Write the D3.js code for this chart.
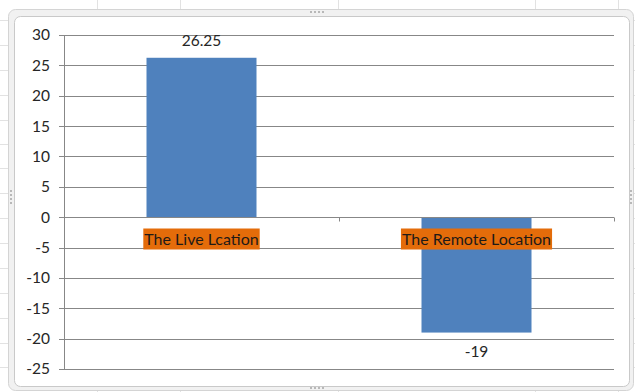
<!DOCTYPE html>
<html>
<head>
<meta charset="utf-8">
<script src="https://cdn.jsdelivr.net/npm/d3@7"></script>
<style>
  html, body { margin: 0; padding: 0; background: #ffffff; }
  svg { display: block; }
  text { font-family: Lato, "Open Sans", sans-serif; }
</style>
</head>
<body>
<svg id="chart" width="635" height="392"></svg>
<script>
// Chart data
const categories = ["The Live Lcation", "The Remote Location"];
const values = [26.25, -19];
const valueLabels = ["26.25", "-19"];
const yTicks = [30, 25, 20, 15, 10, 5, 0, -5, -10, -15, -20, -25];

// Spreadsheet cell borders behind the chart object
const sheetCols = [97, 180, 338, 535, 618];
const sheetRows = [20, 45, 70, 95, 120, 144, 168, 193, 218, 243, 268, 293, 318, 343, 367];

const svg = d3.select("#chart");
const W = 635, H = 392;

// Worksheet grid (only peeks out around the chart frame)
const sheet = svg.append("g").attr("stroke", "#e2e2e2").attr("stroke-width", 1);
sheetCols.forEach(x => sheet.append("line")
  .attr("x1", x + 0.5).attr("x2", x + 0.5).attr("y1", 0).attr("y2", H));
sheetRows.forEach(y => sheet.append("line")
  .attr("x1", 0).attr("x2", W).attr("y1", y + 0.5).attr("y2", y + 0.5));

// Chart object frame: light selection band with a white inner area
svg.append("rect")
  .attr("x", 8.5).attr("y", 9.5).attr("width", 625).attr("height", 381)
  .attr("rx", 7)
  .attr("fill", "#f1f1f1").attr("stroke", "#d4d4d4");
svg.append("rect")
  .attr("x", 14.5).attr("y", 16.5).attr("width", 615).attr("height", 370)
  .attr("rx", 6)
  .attr("fill", "#ffffff").attr("stroke", "#c9c9c9");

// Resize handles (small dotted grips)
const grips = svg.append("g").attr("fill", "#b8b8b8");
[[310, 12], [310, 388]].forEach(([cx, cy]) => {
  for (let i = 0; i < 4; i++) grips.append("rect")
    .attr("x", cx + i * 4).attr("y", cy - 1).attr("width", 2).attr("height", 2);
});
[[11, 190], [631, 190]].forEach(([cx, cy]) => {
  for (let i = 0; i < 4; i++) grips.append("rect")
    .attr("x", cx - 1).attr("y", cy + i * 4).attr("width", 2).attr("height", 2);
});

// Scales
const plotLeft = 64, plotRight = 614, plotTop = 35, plotBottom = 369;
const y = d3.scaleLinear().domain([-25, 30]).range([plotBottom, plotTop]);
const x = d3.scaleBand().domain(categories).range([plotLeft, plotRight])
  .paddingInner(0.6).paddingOuter(0.3);
const xStep = d3.scaleBand().domain(categories).range([plotLeft, plotRight]).padding(0);

const gridColor = "#878787";

// Horizontal gridlines with outward tick marks on the value axis
const grid = svg.append("g");
yTicks.forEach(t => {
  grid.append("line")
    .attr("x1", plotLeft - 5).attr("x2", plotRight)
    .attr("y1", Math.round(y(t)) + 0.5).attr("y2", Math.round(y(t)) + 0.5)
    .attr("stroke", gridColor).attr("stroke-width", 1);
});

// Value axis line
svg.append("line")
  .attr("x1", plotLeft + 0.5).attr("x2", plotLeft + 0.5)
  .attr("y1", Math.round(y(30))).attr("y2", Math.round(y(-25)) + 1)
  .attr("stroke", gridColor);

// Value axis labels
svg.append("g").selectAll("text").data(yTicks).join("text")
  .attr("x", 50).attr("y", d => y(d))
  .attr("dy", "0.35em")
  .attr("text-anchor", "end")
  .attr("font-size", 15.5)
  .attr("fill", "#262626")
  .text(d => d);

// Bars
svg.append("g").selectAll("rect").data(values).join("rect")
  .attr("x", (d, i) => x(categories[i]))
  .attr("width", x.bandwidth())
  .attr("y", d => y(Math.max(0, d)))
  .attr("height", d => Math.abs(y(d) - y(0)))
  .attr("fill", "#4F81BD");

// Category axis (at zero) with downward tick marks between categories
const zeroY = Math.round(y(0)) + 0.5;
svg.append("line")
  .attr("x1", plotLeft).attr("x2", plotRight)
  .attr("y1", zeroY).attr("y2", zeroY)
  .attr("stroke", gridColor);
const catTicks = categories.map(c => xStep(c)).concat([plotRight]);
svg.append("g").selectAll("line").data(catTicks).join("line")
  .attr("x1", d => Math.round(d) + 0.5).attr("x2", d => Math.round(d) + 0.5)
  .attr("y1", zeroY).attr("y2", zeroY + 4)
  .attr("stroke", gridColor);

// Category labels on orange boxes
const catG = svg.append("g");
categories.forEach(c => {
  const cx = x(c) + x.bandwidth() / 2;
  const cy = 239;
  const g = catG.append("g");
  const box = g.append("rect").attr("fill", "#E46C0A");
  const t = g.append("text")
    .attr("x", cx).attr("y", cy).attr("dy", "0.35em")
    .attr("text-anchor", "middle")
    .attr("font-size", 16)
    .attr("fill", "#1f1a17")
    .text(c);
  const bb = t.node().getBBox();
  box.attr("x", bb.x - 1).attr("y", cy - 10.5)
     .attr("width", bb.width + 2).attr("height", 21);
});

// Data labels
svg.append("g").selectAll("text").data(values).join("text")
  .attr("x", (d, i) => x(categories[i]) + x.bandwidth() / 2)
  .attr("y", d => d >= 0 ? y(d) - 17 : y(d) + 19)
  .attr("dy", "0.35em")
  .attr("text-anchor", "middle")
  .attr("font-size", 15.5)
  .attr("fill", "#262626")
  .text((d, i) => valueLabels[i]);
</script>
</body>
</html>
